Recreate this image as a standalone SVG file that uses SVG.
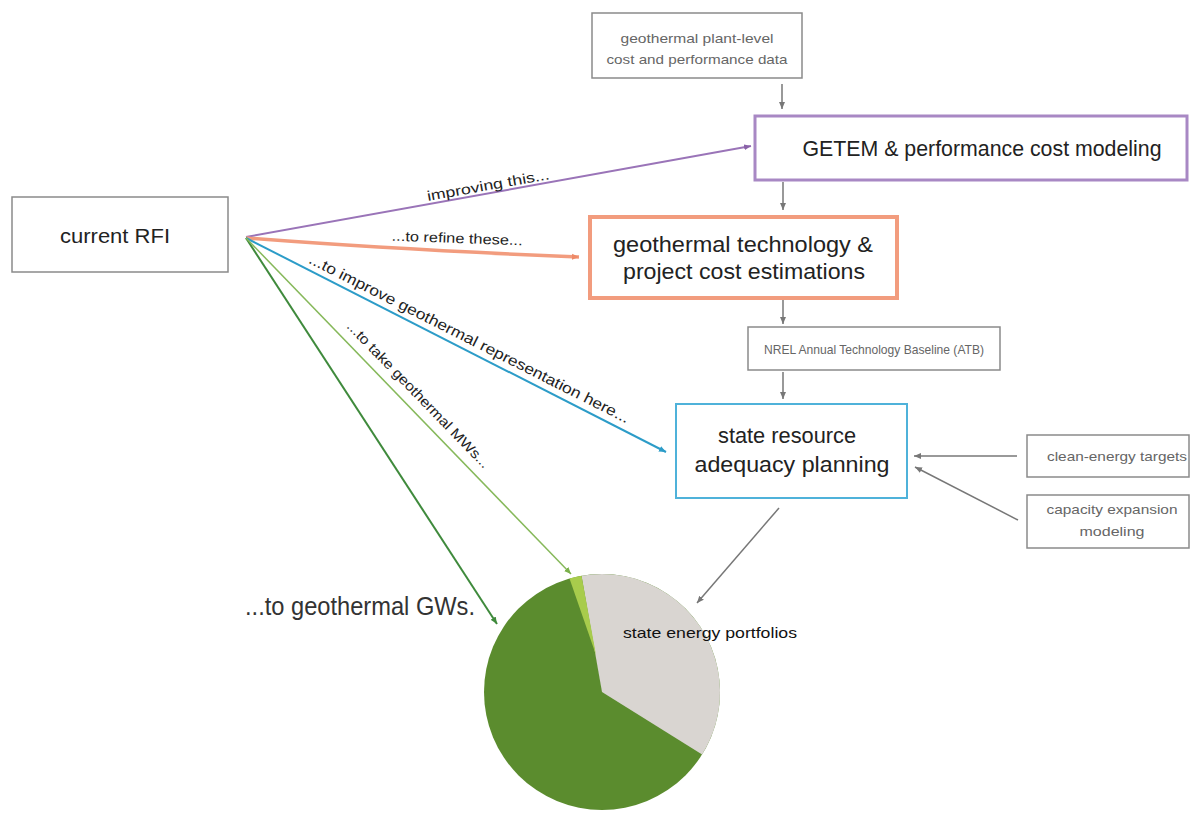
<svg xmlns="http://www.w3.org/2000/svg" width="1191" height="815" viewBox="0 0 1191 815">
<style>
text{font-family:"Liberation Sans","Noto Sans",Arial,sans-serif;}
.big{font-size:22px;fill:#222;}
.small{font-size:13px;fill:#666;}
.lbl{font-size:14px;fill:#222;}
.gbox{fill:#fff;stroke:#8a8a8a;stroke-width:1.5;}
.garrow{stroke:#777;stroke-width:1.5;fill:none;marker-end:url(#mg);}
</style>
<defs>
<marker id="mg" markerUnits="userSpaceOnUse" markerWidth="8" markerHeight="7" refX="7" refY="3.5" orient="auto"><path d="M0,0.5 L7,3.5 L0,6.5 Z" fill="#777"/></marker>
<marker id="mp" markerUnits="userSpaceOnUse" markerWidth="8" markerHeight="7" refX="7" refY="3.5" orient="auto"><path d="M0,0.5 L7,3.5 L0,6.5 Z" fill="#8a62a8"/></marker>
<marker id="mo" markerUnits="userSpaceOnUse" markerWidth="8" markerHeight="7" refX="7" refY="3.5" orient="auto"><path d="M0,0.5 L7,3.5 L0,6.5 Z" fill="#ee8a68"/></marker>
<marker id="mb" markerUnits="userSpaceOnUse" markerWidth="8" markerHeight="7" refX="7" refY="3.5" orient="auto"><path d="M0,0.5 L7,3.5 L0,6.5 Z" fill="#2c9cc8"/></marker>
<marker id="mdg" markerUnits="userSpaceOnUse" markerWidth="8" markerHeight="7" refX="7" refY="3.5" orient="auto"><path d="M0,0.5 L7,3.5 L0,6.5 Z" fill="#3f8a3c"/></marker>
<marker id="mlg" markerUnits="userSpaceOnUse" markerWidth="8" markerHeight="7" refX="7" refY="3.5" orient="auto"><path d="M0,0.5 L7,3.5 L0,6.5 Z" fill="#7ab04a"/></marker>
</defs>
<rect width="1191" height="815" fill="#fff"/>

<g id="pie">
<circle cx="602" cy="692" r="118" fill="#5b8c2e"/>
<path d="M602,692 L581.5,575.8 A118,118 0 0,1 702.1,754.5 Z" fill="#d9d5d1"/>
<path d="M596,655 L569.5,578.6 A118,118 0 0,1 581.5,575.8 Z" fill="#a8cc4c"/>
<text x="623" y="638" style="font-size:15px;fill:#111" textLength="174" lengthAdjust="spacingAndGlyphs">state energy portfolios</text>
</g>
<g id="gw-label"><text x="245" y="615" style="font-size:25px;fill:#333" textLength="230" lengthAdjust="spacingAndGlyphs">...to geothermal GWs.</text></g>

<g id="connectors">
<line x1="782" y1="84" x2="782" y2="109" class="garrow"/>
<line x1="783" y1="182" x2="783" y2="210" class="garrow"/>
<line x1="783" y1="300" x2="783" y2="324" class="garrow"/>
<line x1="783" y1="372" x2="783" y2="399" class="garrow"/>
<line x1="1017" y1="456" x2="914" y2="456" class="garrow"/>
<line x1="1018" y1="520" x2="915" y2="467" class="garrow"/>
<line x1="779" y1="508" x2="697" y2="603" class="garrow"/>
<line x1="246" y1="237" x2="751" y2="146" stroke="#9a74b8" stroke-width="2" marker-end="url(#mp)"/>
<path d="M246,238 Q400,250 579,257" fill="none" stroke="#f29c7e" stroke-width="3.5" marker-end="url(#mo)"/>
<line x1="246" y1="238" x2="666" y2="452" stroke="#2c9cc8" stroke-width="2" marker-end="url(#mb)"/>
<line x1="246" y1="238" x2="497" y2="624" stroke="#3f8a3c" stroke-width="2" marker-end="url(#mdg)"/>
<line x1="246" y1="238" x2="571" y2="574" stroke="#86b85a" stroke-width="1.5" marker-end="url(#mlg)"/>
<text class="lbl" transform="translate(489,190) rotate(-10.2)" text-anchor="middle" textLength="124" lengthAdjust="spacingAndGlyphs">improving this...</text>
<text class="lbl" transform="translate(457,243) rotate(2)" text-anchor="middle" textLength="131" lengthAdjust="spacingAndGlyphs">...to refine these...</text>
<text class="lbl" style="font-size:15px" transform="translate(467,343) rotate(26.8)" text-anchor="middle" textLength="357" lengthAdjust="spacingAndGlyphs">...to improve geothermal representation here...</text>
<text class="lbl" transform="translate(415,398) rotate(45.9)" text-anchor="middle" textLength="198" lengthAdjust="spacingAndGlyphs">...to take geothermal MWs...</text>
</g>

<g id="plant-data">
<rect x="592" y="13" width="210" height="65" class="gbox"/>
<text x="697" y="43" class="small" text-anchor="middle" textLength="153" lengthAdjust="spacingAndGlyphs">geothermal plant-level</text>
<text x="697" y="64" class="small" text-anchor="middle" textLength="181" lengthAdjust="spacingAndGlyphs">cost and performance data</text>
</g>

<g id="getem">
<rect x="755" y="116" width="432" height="64" fill="#fff" stroke="#a888c4" stroke-width="3"/>
<text x="982" y="156" class="big" text-anchor="middle" textLength="359" lengthAdjust="spacingAndGlyphs">GETEM &amp; performance cost modeling</text>
</g>

<g id="current-rfi">
<rect x="12" y="197" width="216" height="75" class="gbox" stroke="#666"/>
<text x="115" y="243" style="font-size:20px;fill:#222" text-anchor="middle" textLength="110" lengthAdjust="spacingAndGlyphs">current RFI</text>
</g>

<g id="cost-estimations">
<rect x="590" y="217" width="307" height="81" fill="#fff" stroke="#f29c7e" stroke-width="4"/>
<text x="743" y="252" class="big" text-anchor="middle" textLength="260" lengthAdjust="spacingAndGlyphs">geothermal technology &amp;</text>
<text x="744" y="279" class="big" text-anchor="middle" textLength="242" lengthAdjust="spacingAndGlyphs">project cost estimations</text>
</g>

<g id="atb">
<rect x="748" y="327" width="252" height="43" class="gbox"/>
<text x="874" y="354" class="small" text-anchor="middle" textLength="220" lengthAdjust="spacingAndGlyphs">NREL Annual Technology Baseline (ATB)</text>
</g>

<g id="state-planning">
<rect x="676" y="404" width="231" height="94" fill="#fff" stroke="#4fb2da" stroke-width="2"/>
<text x="787" y="443" class="big" text-anchor="middle" textLength="138" lengthAdjust="spacingAndGlyphs">state resource</text>
<text x="792" y="472" class="big" text-anchor="middle" textLength="195" lengthAdjust="spacingAndGlyphs">adequacy planning</text>
</g>

<g id="clean-energy">
<rect x="1027" y="435" width="162" height="42" class="gbox"/>
<text x="1117" y="461" class="small" text-anchor="middle" textLength="140" lengthAdjust="spacingAndGlyphs">clean-energy targets</text>
</g>

<g id="capacity-expansion">
<rect x="1027" y="495" width="162" height="53" class="gbox"/>
<text x="1112" y="514" class="small" text-anchor="middle" textLength="131" lengthAdjust="spacingAndGlyphs">capacity expansion</text>
<text x="1112" y="536" class="small" text-anchor="middle" textLength="65" lengthAdjust="spacingAndGlyphs">modeling</text>
</g>
</svg>
